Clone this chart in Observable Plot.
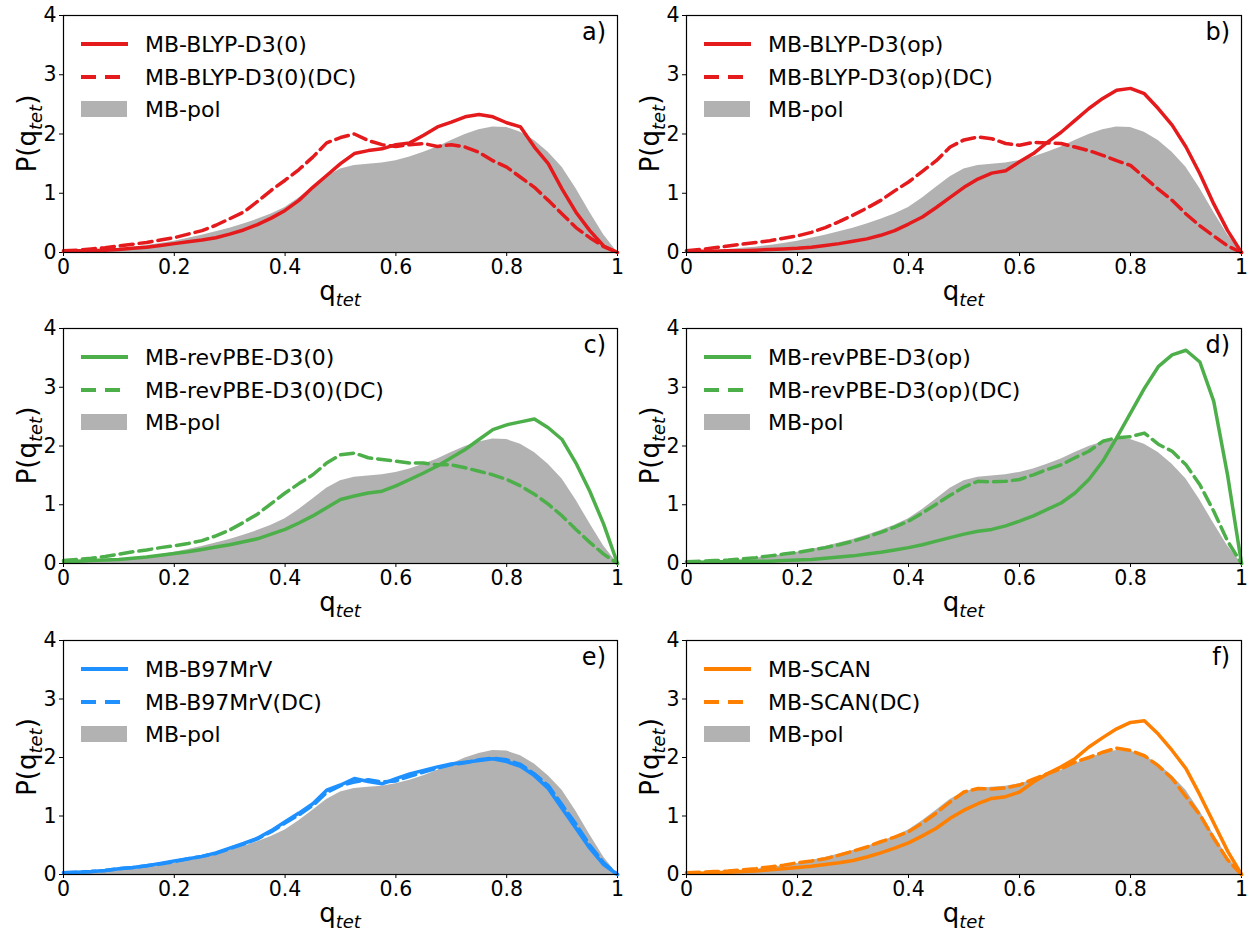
<!DOCTYPE html>
<html><head><meta charset="utf-8">
<script src="https://cdn.jsdelivr.net/npm/d3@7"></script>
<script src="https://cdn.jsdelivr.net/npm/@observablehq/plot@0.6"></script>
<style>
body{margin:0;background:#fff;}
#fig{position:relative;width:1249px;height:932px;background:#fff;font-family:"DejaVu Sans",sans-serif;}
#fig svg{position:absolute;}
</style></head><body><div id="fig"></div>
<script>
// ---- data ----
const q = [0,0.025,0.05,0.075,0.1,0.125,0.15,0.175,0.2,0.225,0.25,0.275,0.3,0.325,0.35,0.375,0.4,0.425,0.45,0.475,0.5,0.525,0.55,0.575,0.6,0.625,0.65,0.675,0.7,0.725,0.75,0.775,0.8,0.825,0.85,0.875,0.9,0.925,0.95,0.975,1];
const mbpol = [0.02,0.03,0.04,0.05,0.07,0.09,0.12,0.15,0.19,0.24,0.29,0.35,0.41,0.48,0.56,0.65,0.76,0.92,1.10,1.28,1.41,1.47,1.49,1.51,1.55,1.61,1.69,1.78,1.89,1.99,2.07,2.12,2.11,2.03,1.89,1.69,1.44,1.08,0.68,0.30,0.0];
const blyp0 = [0.02,0.03,0.03,0.04,0.05,0.07,0.09,0.12,0.15,0.18,0.21,0.25,0.31,0.38,0.47,0.58,0.71,0.88,1.10,1.30,1.50,1.67,1.72,1.75,1.82,1.85,1.98,2.12,2.20,2.29,2.33,2.29,2.19,2.12,1.78,1.50,1.07,0.68,0.37,0.11,0];
const blyp0DC = [0.03,0.04,0.06,0.08,0.11,0.14,0.17,0.21,0.25,0.31,0.37,0.46,0.57,0.68,0.86,1.05,1.22,1.40,1.61,1.85,1.94,2.00,1.89,1.82,1.79,1.82,1.84,1.79,1.82,1.78,1.69,1.55,1.44,1.27,1.10,0.88,0.65,0.42,0.25,0.10,0];
const blypOp = [0.02,0.02,0.02,0.03,0.03,0.04,0.05,0.06,0.07,0.09,0.12,0.15,0.19,0.23,0.29,0.37,0.48,0.60,0.76,0.93,1.10,1.24,1.34,1.38,1.53,1.67,1.86,2.03,2.23,2.43,2.60,2.74,2.77,2.68,2.43,2.15,1.78,1.33,0.82,0.37,0];
const blypOpDC = [0.03,0.05,0.08,0.11,0.14,0.17,0.20,0.24,0.28,0.34,0.42,0.52,0.63,0.75,0.88,1.04,1.19,1.37,1.55,1.78,1.90,1.95,1.92,1.84,1.81,1.86,1.85,1.84,1.78,1.72,1.64,1.55,1.47,1.27,1.07,0.88,0.65,0.45,0.28,0.11,0];
const rev0 = [0.03,0.04,0.05,0.06,0.07,0.09,0.11,0.14,0.17,0.20,0.24,0.28,0.32,0.37,0.42,0.50,0.58,0.69,0.81,0.95,1.09,1.15,1.20,1.23,1.32,1.43,1.54,1.66,1.80,1.94,2.11,2.28,2.36,2.41,2.46,2.31,2.11,1.71,1.23,0.67,0];
const rev0DC = [0.05,0.07,0.09,0.12,0.16,0.20,0.23,0.27,0.30,0.34,0.39,0.47,0.57,0.70,0.84,1.02,1.20,1.36,1.51,1.71,1.85,1.88,1.80,1.77,1.74,1.71,1.71,1.68,1.68,1.63,1.57,1.51,1.43,1.32,1.18,1.01,0.81,0.58,0.36,0.16,0];
const revOp = [0.02,0.02,0.03,0.03,0.03,0.04,0.04,0.05,0.06,0.07,0.09,0.11,0.13,0.16,0.19,0.23,0.27,0.32,0.38,0.44,0.50,0.55,0.58,0.64,0.72,0.81,0.92,1.03,1.20,1.43,1.74,2.14,2.56,2.98,3.35,3.55,3.63,3.43,2.76,1.50,0];
const revOpDC = [0.03,0.04,0.05,0.06,0.08,0.10,0.13,0.16,0.19,0.23,0.27,0.32,0.38,0.45,0.53,0.62,0.72,0.86,1.01,1.16,1.30,1.40,1.39,1.40,1.43,1.51,1.60,1.68,1.80,1.91,2.08,2.14,2.16,2.22,2.03,1.91,1.68,1.34,0.89,0.38,0];
const b97 = [0.03,0.04,0.05,0.07,0.10,0.12,0.15,0.19,0.23,0.27,0.31,0.37,0.45,0.53,0.62,0.75,0.90,1.05,1.21,1.44,1.53,1.64,1.59,1.55,1.64,1.72,1.78,1.84,1.89,1.92,1.95,1.98,1.93,1.85,1.69,1.47,1.13,0.79,0.45,0.17,0];
const b97DC = [0.03,0.04,0.05,0.07,0.10,0.12,0.15,0.18,0.22,0.27,0.31,0.36,0.44,0.52,0.61,0.73,0.88,1.02,1.18,1.40,1.52,1.58,1.62,1.58,1.60,1.68,1.75,1.82,1.88,1.91,1.96,1.99,1.96,1.88,1.72,1.52,1.19,0.86,0.50,0.20,0];
const scan = [0.02,0.02,0.03,0.04,0.05,0.06,0.08,0.10,0.12,0.14,0.17,0.20,0.24,0.30,0.37,0.45,0.54,0.66,0.79,0.96,1.10,1.21,1.30,1.33,1.41,1.58,1.72,1.84,1.98,2.18,2.34,2.49,2.60,2.63,2.40,2.12,1.81,1.36,0.88,0.40,0];
const scanDC = [0.03,0.04,0.05,0.06,0.08,0.10,0.13,0.16,0.20,0.23,0.27,0.33,0.40,0.47,0.56,0.64,0.73,0.88,1.05,1.24,1.41,1.47,1.46,1.48,1.53,1.63,1.72,1.81,1.92,2.00,2.09,2.16,2.12,2.03,1.86,1.64,1.33,1.02,0.62,0.25,0];

const xTicks = [0,0.2,0.4,0.6,0.8,1];
const xTickLabels = ["0","0.2","0.4","0.6","0.8","1"];
const yTicks = [0,1,2,3,4];
const yTickLabels = ["0","1","2","3","4"];
const panelLabels = ["a)","b)","c)","d)","e)","f)"];
const solidNames = ["MB-BLYP-D3(0)","MB-BLYP-D3(op)","MB-revPBE-D3(0)","MB-revPBE-D3(op)","MB-B97MrV","MB-SCAN"];
const dashedNames = ["MB-BLYP-D3(0)(DC)","MB-BLYP-D3(op)(DC)","MB-revPBE-D3(0)(DC)","MB-revPBE-D3(op)(DC)","MB-B97MrV(DC)","MB-SCAN(DC)"];
const refName = "MB-pol";
const solidSeries = [blyp0, blypOp, rev0, revOp, b97, scan];
const dashedSeries = [blyp0DC, blypOpDC, rev0DC, revOpDC, b97DC, scanDC];
const colors = ["#e41a1c","#e41a1c","#4daf4a","#4daf4a","#1e90ff","#ff7f00"];

// ---- layout ----
const GRAY = "#b2b2b2";
const DASH = "13,6";
const LW = 3.5;
const W = 625, H = 312;
const colLeft = [0, 624], colML = [63, 62];
const rowTop = [0, 312, 624], rowMT = [15, 16, 16], rowMB = [60, 61, 62];
const fig = document.getElementById("fig");
const rows = arr => q.map((x, i) => ({q: x, p: arr[i]}));

panelLabels.forEach((lab, k) => {
  const c = k % 2, r = Math.floor(k / 2);
  const ml = colML[c], mr = 8, mt = rowMT[r], mb = rowMB[r];
  const color = colors[k];
  const svg = Plot.plot({
    width: W, height: H,
    marginLeft: ml, marginRight: mr, marginTop: mt, marginBottom: mb,
    style: {fontSize: "20.5px", fontFamily: "DejaVu Sans", color: "black", background: "transparent", overflow: "visible"},
    x: {domain: [0, 1], ticks: xTicks, tickFormat: d => xTickLabels[xTicks.indexOf(d)], tickSize: 4, tickPadding: 3, label: null},
    y: {domain: [0, 4], ticks: yTicks, tickFormat: d => yTickLabels[yTicks.indexOf(d)], tickSize: 4, tickPadding: 3, label: null},
    marks: [
      Plot.areaY(rows(mbpol), {x: "q", y: "p", fill: GRAY}),
      Plot.line(rows(dashedSeries[k]), {x: "q", y: "p", stroke: color, strokeWidth: LW, strokeDasharray: DASH}),
      Plot.line(rows(solidSeries[k]), {x: "q", y: "p", stroke: color, strokeWidth: LW}),
      Plot.frame({stroke: "black", strokeWidth: 1.2})
    ]
  });
  svg.style.left = colLeft[c] + "px";
  svg.style.top = rowTop[r] + "px";
  fig.appendChild(svg);

  const x0 = ml, x1 = W - mr, y0 = mt, y1 = H - mb;
  const g = d3.select(svg).append("g").attr("font-family", "DejaVu Sans").attr("fill", "black");
  // panel label
  g.append("text").attr("x", x1 - 11).attr("y", y0 + 25).attr("text-anchor", "end").attr("font-size", 24).text(lab);
  // legend
  const ly = [y0 + 29, y0 + 62, y0 + 94];
  g.append("line").attr("x1", x0 + 18).attr("x2", x0 + 65).attr("y1", ly[0]).attr("y2", ly[0]).attr("stroke", color).attr("stroke-width", 4);
  g.append("line").attr("x1", x0 + 18).attr("x2", x0 + 65).attr("y1", ly[1]).attr("y2", ly[1]).attr("stroke", color).attr("stroke-width", 4).attr("stroke-dasharray", "15,9");
  g.append("rect").attr("x", x0 + 18).attr("y", ly[2] - 8).attr("width", 46).attr("height", 16).attr("fill", GRAY);
  [solidNames[k], dashedNames[k], refName].forEach((t, i) => {
    g.append("text").attr("x", x0 + 82).attr("y", ly[i] + 8).attr("text-anchor", "start").attr("font-size", 22).text(t);
  });
  // x label
  const xl = g.append("text").attr("x", (x0 + x1) / 2).attr("y", y1 + 48).attr("text-anchor", "middle").attr("font-size", 26);
  xl.append("tspan").text("q");
  xl.append("tspan").attr("font-size", 18).attr("font-style", "italic").attr("dy", 6).text("tet");
  // y label
  const yl = g.append("text").attr("transform", `translate(${x0 - 27},${(y0 + y1) / 2}) rotate(-90)`).attr("text-anchor", "middle").attr("font-size", 26);
  yl.append("tspan").text("P(q");
  yl.append("tspan").attr("font-size", 18).attr("font-style", "italic").attr("dy", 6).text("tet");
  yl.append("tspan").attr("dy", -6).text(")");
});
</script></body></html>
